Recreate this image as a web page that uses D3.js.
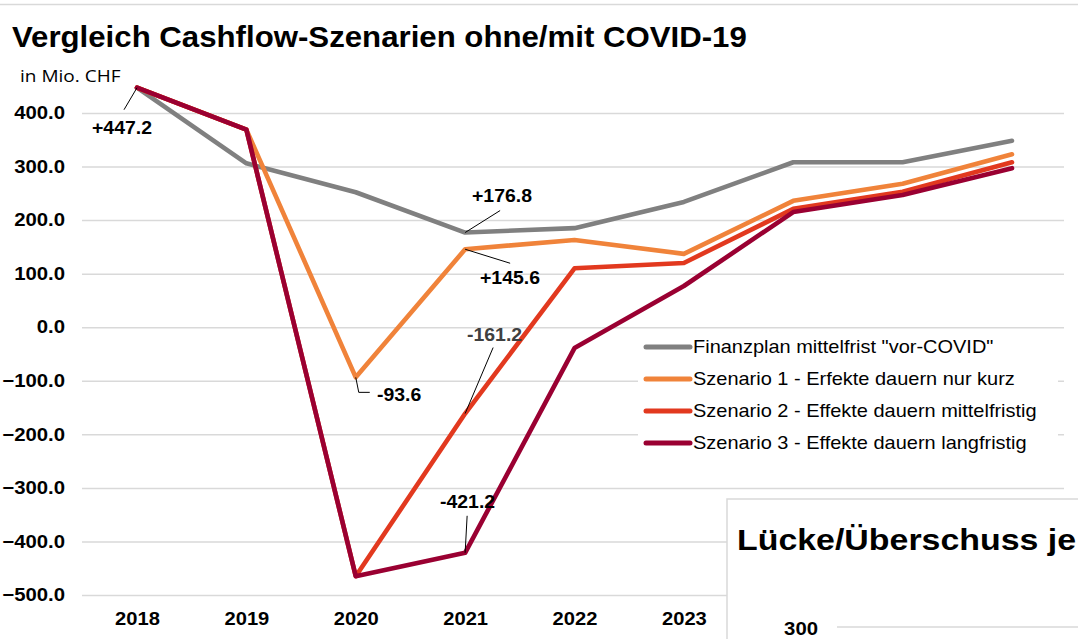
<!DOCTYPE html>
<html><head><meta charset="utf-8">
<script src="https://cdn.jsdelivr.net/npm/d3@7"></script>
<style>
body{margin:0;background:#fff;}
svg{display:block;font-family:"Liberation Sans",Arial,sans-serif;}
</style></head>
<body><svg id="c" width="1078" height="639"></svg>
<script>
const years = ["2018","2019","2020","2021","2022","2023","2024","2025","2026"];
const visibleYearLabels = ["2018","2019","2020","2021","2022","2023"];
const seriesNames = ['Finanzplan mittelfrist "vor-COVID"','Szenario 1 - Erfekte dauern nur kurz','Szenario 2 - Effekte dauern mittelfristig','Szenario 3 - Effekte dauern langfristig'];
const seriesColors = ["#808080","#F0833A","#E2391F","#9A0032"];
const finanzplan = [447.2, 306, 252, 176.8, 185, 234, 308, 308, 348];
const szenario1 = [447.2, 369, -93.6, 145.6, 163, 137, 236, 268, 323];
const szenario2 = [447.2, 369, -465, -161.2, 110, 120, 221, 253, 308];
const szenario3 = [447.2, 369, -465, -421.2, -39, 77, 215, 247, 297];
const seriesValues = [finanzplan, szenario1, szenario2, szenario3];
const yTicks = [400,300,200,100,0,-100,-200,-300,-400,-500];
const annotations = [
  {s:0,i:0,text:"+447.2"},
  {s:0,i:3,text:"+176.8"},
  {s:1,i:3,text:"+145.6"},
  {s:1,i:2,text:"-93.6"},
  {s:2,i:3,text:"-161.2"},
  {s:3,i:3,text:"-421.2"}
];
const insetTitle = "Lücke/Überschuss je";
const insetTicks = [300];

const svg = d3.select("#c");
const x = d3.scalePoint().domain(years).range([137,1012]);
const y = d3.scaleLinear().domain([-500,400]).range([595,113]);
const gridX0 = 82, gridX1 = 1064;

function sText(g, tx, ty, sx, txt){
  return g.append("text").attr("transform",`translate(${tx},${ty}) scale(${sx},1)`).text(txt);
}

// top border
svg.append("line").attr("x1",0).attr("x2",1078).attr("y1",4.5).attr("y2",4.5).attr("stroke","#d9d9d9").attr("stroke-width",1.5);

// title
sText(svg,12,47,1.04,"Vergleich Cashflow-Szenarien ohne/mit COVID-19")
  .attr("font-size",30).attr("font-weight","bold").attr("fill","#000");
sText(svg,20,82,1.12,"in Mio. CHF").attr("font-size",17).attr("fill","#000")
  .attr("font-family","'Open Sans',sans-serif");

// grid
const yAxis = d3.axisLeft(y).tickValues(yTicks).tickSize(-(gridX1-gridX0)).tickPadding(15).tickFormat(d3.format(".1f"));
const gy = svg.append("g").attr("transform",`translate(${gridX0},0)`).call(yAxis);
gy.select(".domain").remove();
gy.selectAll(".tick line").attr("stroke","#d9d9d9").attr("stroke-width",1.5);
gy.selectAll(".tick text").attr("font-size",18).attr("font-weight","bold").attr("fill","#000")
  .attr("font-family","'Liberation Sans',Arial,sans-serif").attr("transform","scale(1.13,1)");

// x axis labels
const xAxis = d3.axisBottom(x).tickValues(visibleYearLabels).tickSize(0).tickPadding(0);
const gx = svg.append("g").attr("transform","translate(0,612)").call(xAxis);
gx.select(".domain").remove();
gx.selectAll(".tick text").attr("font-size",18).attr("font-weight","bold").attr("fill","#000").attr("dy","0.71em")
  .attr("font-family","'Liberation Sans',Arial,sans-serif").attr("transform","scale(1.12,1)");

// lines
const line = d3.line().x((d,i)=>x(years[i])).y(d=>y(d));
seriesValues.forEach((vals,k)=>{
  svg.append("path").datum(vals).attr("d",line).attr("fill","none")
    .attr("stroke",seriesColors[k]).attr("stroke-width",4.6).attr("stroke-linejoin","round").attr("stroke-linecap","round");
});

// annotations
const labelPos = {
  "+447.2":{tx:92,ty:134,leader:[[0,0],[-13,22]]},
  "+176.8":{tx:472,ty:202,leader:[[0,0],[35,-22]]},
  "+145.6":{tx:480,ty:284,leader:[[0,0],[45,14]]},
  "-93.6":{tx:377,ty:401,leader:[[0,0],[3,15],[14,15]]},
  "-161.2":{tx:467,ty:341,leader:[[0,0],[28,-66]]},
  "-421.2":{tx:440,ty:508,leader:[[0,0],[2,-37]]}
};
annotations.forEach(a=>{
  const px = x(years[a.i]), py = y(seriesValues[a.s][a.i]);
  const p = labelPos[a.text];
  svg.append("path").attr("d", d3.line()(p.leader.map(q=>[px+q[0],py+q[1]])))
    .attr("fill","none").attr("stroke","#000").attr("stroke-width",1);
  sText(svg,p.tx,p.ty,1.08,a.text).attr("font-size",18).attr("font-weight","bold")
    .attr("fill", a.text==="-161.2" ? "#404040" : "#000");
});

// legend
const lg = svg.append("g");
lg.append("rect").attr("x",638).attr("y",333).attr("width",420).attr("height",124).attr("fill","#fff");
seriesNames.forEach((n,k)=>{
  const ly = 347 + k*32;
  lg.append("line").attr("x1",646).attr("x2",690).attr("y1",ly).attr("y2",ly)
    .attr("stroke",seriesColors[k]).attr("stroke-width",5).attr("stroke-linecap","round");
  sText(lg,693,ly+6,1.11,n).attr("font-size",18).attr("fill","#000");
});

// overlapping second chart
const inset = svg.append("g");
inset.append("rect").attr("x",727).attr("y",499).attr("width",360).attr("height",150)
  .attr("fill","#fff").attr("stroke","#d9d9d9").attr("stroke-width",1.5);
sText(inset,737,550,1.13,insetTitle).attr("font-size",30).attr("font-weight","bold").attr("fill","#000");
insetTicks.forEach(t=>{
  sText(inset,818,635,1.13,t).attr("text-anchor","end").attr("font-size",18).attr("font-weight","bold").attr("fill","#000");
  inset.append("line").attr("x1",837).attr("x2",1078).attr("y1",627).attr("y2",627).attr("stroke","#d9d9d9").attr("stroke-width",1.5);
});
</script></body></html>
